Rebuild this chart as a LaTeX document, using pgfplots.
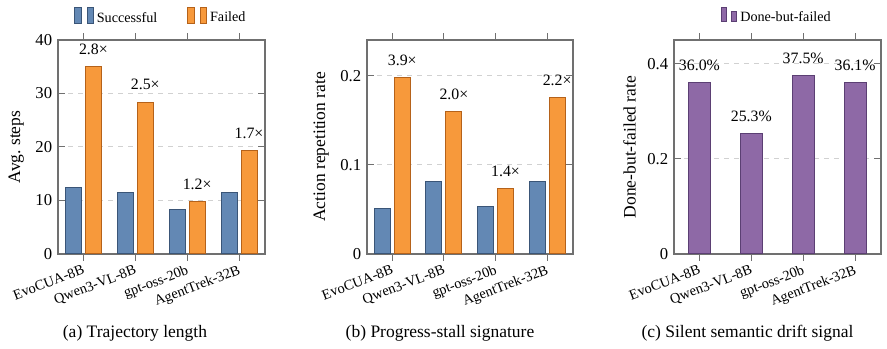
\documentclass[border=0pt]{standalone}
\usepackage{fontspec}
\setmainfont{Liberation Serif}
\usepackage{pgfplots}
\pgfplotsset{compat=1.18}

\definecolor{succ}{HTML}{6388B4}
\definecolor{succD}{HTML}{3A5577}
\definecolor{fail}{HTML}{F7993B}
\definecolor{failD}{HTML}{B5621A}
\definecolor{drift}{HTML}{8E69A6}
\definecolor{driftD}{HTML}{5B3F73}
\definecolor{axgray}{HTML}{707070}

\pgfplotsset{
  panel/.style={
    scale only axis, width=124.2pt, height=128.4pt,
    axis line style={axgray, line width=0.7pt},
    every tick/.style={axgray, line width=0.6pt},
    xmin=-0.49, xmax=3.5, ymin=0,
    xtick={0,1,2,3},
    xticklabels={EvoCUA-8B,Qwen3-VL-8B,gpt-oss-20b,AgentTrek-32B},
    x tick label style={rotate=21, anchor=north east, inner sep=1.5pt,
      font=\fontsize{8.6}{10}\selectfont},
    xtick align=outside,
    major tick length=4pt,
    ymajorgrids, grid style={dashed, black!18, line width=0.6pt},
    y tick label style={font=\fontsize{10}{11}\selectfont},
    ylabel style={font=\fontsize{10.5}{12}\selectfont},
    /pgf/number format/assume math mode=true,
    ybar=2.4pt, bar width=9.6pt,
    legend style={draw=none, fill=none, font=\fontsize{8.5}{10}\selectfont,
      legend columns=-1, at={(0.5,1)}, anchor=center, yshift=13.6pt,
      /tikz/every even column/.append style={column sep=16pt}},
    legend image code/.code={%
      \draw[##1, line width=0.6pt] (0pt,-3pt) rectangle (4.2pt,6.6pt);
      \draw[##1, line width=0.6pt] (7.4pt,-3pt) rectangle (11pt,6.6pt);},
  },
  ratiolabels/.style={
    nodes near coords, point meta=explicit symbolic,
    every node near coord/.append style={font=\fontsize{9.5}{10}\selectfont,
      anchor=south, yshift=3.5pt, text=black},
  },
}

\begin{document}
\begin{tikzpicture}
\useasboundingbox (0pt,0pt) rectangle (532.2pt,208.8pt);

% (a) average trajectory length
\begin{axis}[panel, at={(34.8pt,56.4pt)}, anchor=south west,
  ymax=40, ytick={0,10,20,30,40}, ylabel={Avg.\ steps}]
\addplot[fill=succ, draw=succD, line width=0.6pt]
  coordinates {(0,12.4) (1,11.5) (2,8.35) (3,11.45)};
\addlegendentry{Successful}
\addplot[fill=fail, draw=failD, line width=0.6pt, ratiolabels]
  coordinates {(0,35.1) [2.8×] (1,28.4) [2.5×] (2,9.85) [1.2×] (3,19.4) [1.7×]};
\addlegendentry{Failed}
\end{axis}

% (b) action repetition rate
\begin{axis}[panel, at={(220.2pt,56.4pt)}, anchor=south west, width=123.6pt,
  ymax=0.24, ytick={0,0.1,0.2}, ylabel={Action repetition rate}]
\addplot[fill=succ, draw=succD, line width=0.6pt]
  coordinates {(0,0.0513) (1,0.0812) (2,0.0532) (3,0.0812)};
\addplot[fill=fail, draw=failD, line width=0.6pt, ratiolabels]
  coordinates {(0,0.1974) [3.9×] (1,0.160) [2.0×] (2,0.0734) [1.4×] (3,0.175) [2.2×]};
\end{axis}

% (c) done-but-failed rate
\begin{axis}[panel, at={(404.4pt,56.4pt)}, anchor=south west,
  ybar=0pt, bar width=13.2pt,
  ymax=0.45, ytick={0,0.2,0.4}, ylabel={Done-but-failed rate}]
\addplot[fill=drift, draw=driftD, line width=0.6pt, ratiolabels]
  coordinates {(0,0.360) [36.0\%] (1,0.253) [25.3\%] (2,0.375) [37.5\%] (3,0.361) [36.1\%]};
\addlegendentry{Done-but-failed}
\end{axis}

\node[font=\fontsize{10.5}{12}\selectfont] at (81pt,9pt) {(a) Trajectory length};
\node[font=\fontsize{10.5}{12}\selectfont] at (264pt,9pt) {(b) Progress-stall signature};
\node[font=\fontsize{10.5}{12}\selectfont] at (448.5pt,9pt) {(c) Silent semantic drift signal};
\end{tikzpicture}
\end{document}
